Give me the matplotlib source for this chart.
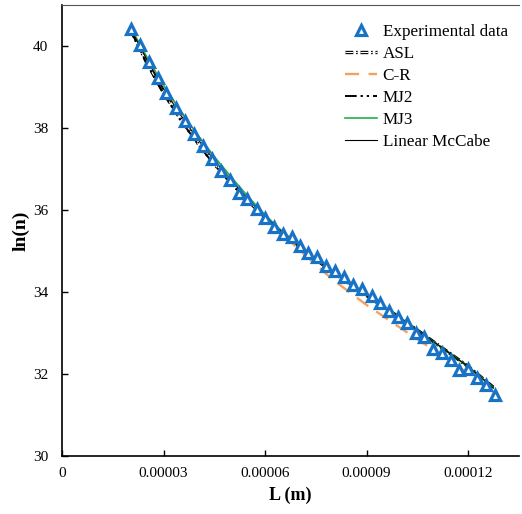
import numpy as np
import matplotlib
matplotlib.use("Agg")
import matplotlib.pyplot as plt
import matplotlib.patheffects as pe

plt.rcParams['font.family'] = ['Liberation Serif', 'DejaVu Serif']

# experimental points, L (m) and ln(n)
L_exp = np.array([2.039, 2.305, 2.571, 2.837, 3.074, 3.369, 3.635, 3.901, 4.167, 4.433,
                  4.699, 4.966, 5.232, 5.468, 5.764, 6.000, 6.266, 6.532, 6.798, 7.034,
                  7.271, 7.537, 7.803, 8.069, 8.335, 8.601, 8.867, 9.163, 9.399, 9.665,
                  9.931, 10.197, 10.463, 10.700, 10.966, 11.232, 11.498, 11.734, 12.000,
                  12.266, 12.532, 12.798]) * 1e-5
lnn_exp = np.array([40.41, 40.02, 39.60, 39.22, 38.85, 38.49, 38.17, 37.86, 37.56, 37.25,
                    36.96, 36.74, 36.42, 36.27, 36.03, 35.81, 35.59, 35.42, 35.33, 35.13,
                    34.94, 34.84, 34.64, 34.50, 34.35, 34.16, 34.08, 33.89, 33.72, 33.52,
                    33.38, 33.23, 32.99, 32.89, 32.60, 32.50, 32.33, 32.09, 32.11,
                    31.89, 31.72, 31.48])

# model curves
L_mod = np.array([2.04, 2.5, 3.0, 3.5, 4.0, 4.5, 5.0, 5.5, 6.0, 6.5, 7.0,
                  8.0, 9.0, 10.0, 11.0, 12.0, 12.75]) * 1e-5
lnn_asl = np.array([40.38, 39.60, 38.86, 38.22, 37.64, 37.12, 36.66, 36.22, 35.82, 35.45, 35.11,
                    34.48, 33.91, 33.36, 32.77, 32.18, 31.67])
lnn_cr = np.array([40.42, 39.72, 39.02, 38.40, 37.82, 37.28, 36.78, 36.30, 35.86, 35.44, 35.03,
                   34.30, 33.68, 33.12, 32.57, 32.01, 31.52])
lnn_mj2 = np.array([40.36, 39.58, 38.84, 38.20, 37.62, 37.10, 36.64, 36.21, 35.81, 35.45, 35.11,
                    34.48, 33.91, 33.36, 32.77, 32.18, 31.67])
lnn_mj3 = np.array([40.43, 39.74, 39.04, 38.42, 37.84, 37.30, 36.80, 36.32, 35.88, 35.48, 35.12,
                    34.48, 33.91, 33.36, 32.77, 32.18, 31.66])
lnn_mccabe = np.array([40.40, 39.68, 38.96, 38.32, 37.74, 37.21, 36.72, 36.26, 35.84, 35.46, 35.11,
                       34.48, 33.91, 33.36, 32.77, 32.18, 31.65])

fig = plt.figure(figsize=(5.22, 5.14), dpi=100)
ax = fig.add_axes([62 / 522, 58.3 / 514, 456.75 / 522, 450.7 / 514])

ax.plot(L_exp, lnn_exp, linestyle='none', marker='^', markersize=6.8,
        markerfacecolor='white', markeredgecolor='#1873C6', markeredgewidth=2.3,
        label='Experimental data', zorder=5)
ax.plot(L_mod, lnn_asl, color='white', lw=0.8, dashes=[7, 2.5, 1.5, 2.5],
        path_effects=[pe.Stroke(linewidth=2.4, foreground='black'), pe.Normal()],
        label='ASL', zorder=3)
ax.plot(L_mod, lnn_cr, color='#F4A15D', lw=1.7, dashes=[6, 4], label='C-R', zorder=3)
ax.plot(L_mod, lnn_mj2, color='black', lw=1.4, dashes=[6, 2, 1.2, 2, 1.2, 2], label='MJ2', zorder=3)
ax.plot(L_mod, lnn_mj3, color='#22B04C', lw=1.2, label='MJ3', zorder=3)
ax.plot(L_mod, lnn_mccabe, color='black', lw=0.8, label='Linear McCabe', zorder=4)

ax.set_xlim(0, 0.000135)
ax.set_ylim(30, 41)
ax.set_xticks([0, 0.00003, 0.00006, 0.00009, 0.00012])
ax.set_xticklabels(['0', '0.00003', '0.00006', '0.00009', '0.00012'])
ax.set_yticks([30, 32, 34, 36, 38, 40])
ax.tick_params(direction='in', length=4, width=1, labelsize=11)
ax.tick_params(axis='x', pad=8)
ax.tick_params(axis='y', pad=10)
ax.spines['right'].set_visible(False)
ax.spines['top'].set_color('#555555')
for s in ['left', 'bottom']:
    ax.spines[s].set_linewidth(1.2)

ax.set_xlabel('L (m)', fontsize=13, fontweight='bold', labelpad=5)
ax.set_ylabel('ln(n)', fontsize=14, fontweight='bold', labelpad=2)

ax.legend(loc='upper left', bbox_to_anchor=(345 / 522, 1 - 24 / 514),
          bbox_transform=fig.transFigure, frameon=False, fontsize=12.3,
          handlelength=1.9, handletextpad=0.3, labelspacing=0.35,
          borderpad=0, borderaxespad=0, numpoints=1)

fig.savefig('out.png', dpi=100)
